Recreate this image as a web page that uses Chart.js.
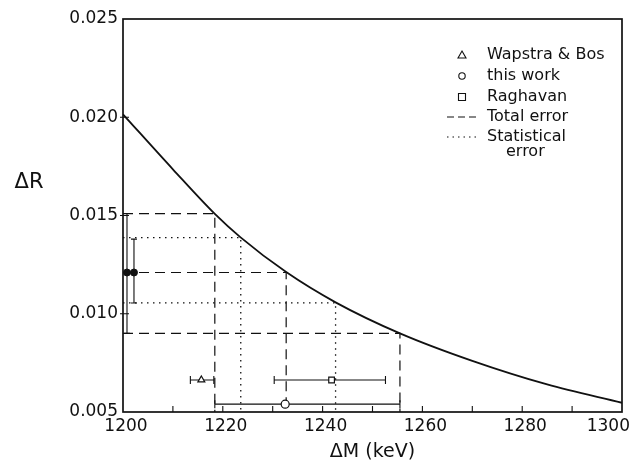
<!DOCTYPE html>
<html>
<head>
<meta charset="utf-8">
<script src="https://cdn.jsdelivr.net/npm/chart.js@4/dist/chart.umd.min.js"></script>
<style>
html, body { margin: 0; padding: 0; background: #fff; }
#wrap { width: 633px; height: 461px; }
</style>
</head>
<body>
<div id="wrap"><canvas id="chart"></canvas></div>
<script>
// curve dR vs dM
var curveM = [1200, 1210, 1218.4, 1223.5, 1232.7, 1242.6, 1255.5, 1270, 1285, 1300];
var curveR = [0.02015, 0.01735, 0.01508, 0.0139, 0.01212, 0.01058, 0.0090, 0.0076, 0.0064, 0.00547];

// total error (dashed) and statistical error (dotted) guide corners
var totalM = [1218.4, 1232.7, 1255.5];
var totalR = [0.0151, 0.0121, 0.0090];
var statM = [1223.6, 1242.6];
var statR = [0.01387, 0.01055];

// measurements with horizontal error bars
var pointNames = ['Wapstra & Bos', 'this work', 'Raghavan'];
var pointStyles = ['triangle', 'circle', 'rect'];
var pointM = [1215.7, 1232.5, 1241.8];
var pointR = [0.00663, 0.00540, 0.00663];
var pointLo = [1213.5, 1218.4, 1230.3];
var pointHi = [1218.2, 1255.5, 1252.6];

// filled points at left edge with vertical error bars
var leftM = [1200.8, 1202.2];
var leftR = [0.0121, 0.0121];
var leftLo = [0.0090, 0.01055];
var leftHi = [0.0151, 0.0138];

var xLabels = [1200, 1220, 1240, 1260, 1280, 1300];
var yLabels = ['0.005', '0.010', '0.015', '0.020', '0.025'];

var ink = '#111';
var font = '"DejaVu Sans", sans-serif';

function guide(m, r) {
    return [{x: 1200, y: r}, {x: m, y: r}, {x: m, y: 0.005}];
}

var datasets = [];
datasets.push({
    data: pointM.map(function (m, i) { return {x: m, y: pointR[i]}; }),
    showLine: false, pointStyle: pointStyles, pointRadius: 4,
    pointBorderColor: ink, pointBackgroundColor: '#fff', pointBorderWidth: 1.2
});
datasets.push({
    data: leftM.map(function (m, i) { return {x: m, y: leftR[i]}; }),
    showLine: false, pointStyle: 'circle', pointRadius: 3.5,
    pointBorderColor: ink, pointBackgroundColor: ink, pointBorderWidth: 1
});
datasets.push({
    data: curveM.map(function (m, i) { return {x: m, y: curveR[i]}; }),
    borderColor: ink, borderWidth: 1.8, pointRadius: 0,
    cubicInterpolationMode: 'monotone', fill: false
});
for (var i = 0; i < totalM.length; i++) {
    datasets.push({
        data: guide(totalM[i], totalR[i]), borderColor: ink, borderWidth: 1.2,
        borderDash: [10, 6], pointRadius: 0, fill: false
    });
}
for (var j = 0; j < statM.length; j++) {
    datasets.push({
        data: guide(statM[j], statR[j]), borderColor: ink, borderWidth: 1.3,
        borderDash: [1.5, 4.5], pointRadius: 0, fill: false
    });
}

var decor = {
    id: 'decor',
    beforeDatasetsDraw: function (chart) {
        var ctx = chart.ctx, xs = chart.scales.x, ys = chart.scales.y;
        ctx.save();
        ctx.strokeStyle = ink;
        ctx.lineWidth = 1.1;
        ctx.setLineDash([]);
        // horizontal error bars
        for (var i = 0; i < pointM.length; i++) {
            var y = ys.getPixelForValue(pointR[i]);
            var a = xs.getPixelForValue(pointLo[i]), b = xs.getPixelForValue(pointHi[i]);
            ctx.beginPath();
            ctx.moveTo(a, y); ctx.lineTo(b, y);
            ctx.moveTo(a, y - 4); ctx.lineTo(a, y + 4);
            ctx.moveTo(b, y - 4); ctx.lineTo(b, y + 4);
            ctx.stroke();
        }
        // vertical error bars
        for (var k = 0; k < leftM.length; k++) {
            var x = xs.getPixelForValue(leftM[k]);
            var t = ys.getPixelForValue(leftHi[k]), u = ys.getPixelForValue(leftLo[k]);
            ctx.beginPath();
            ctx.moveTo(x, t); ctx.lineTo(x, u);
            ctx.moveTo(x - 3, t); ctx.lineTo(x + 3, t);
            ctx.moveTo(x - 3, u); ctx.lineTo(x + 3, u);
            ctx.stroke();
        }
        ctx.restore();
    },
    afterDraw: function (chart) {
        var ctx = chart.ctx, area = chart.chartArea;
        var xs = chart.scales.x, ys = chart.scales.y;
        ctx.save();
        ctx.strokeStyle = ink;
        ctx.setLineDash([]);
        ctx.lineWidth = 1.7;
        ctx.strokeRect(area.left, area.top, area.right - area.left, area.bottom - area.top);

        // inward ticks
        ctx.lineWidth = 1.1;
        ctx.beginPath();
        for (var v = 1210; v < 1300; v += 10) {
            var px = xs.getPixelForValue(v);
            ctx.moveTo(px, area.bottom); ctx.lineTo(px, area.bottom - 6);
        }
        for (var w = 0.010; w < 0.0249; w += 0.005) {
            var py = ys.getPixelForValue(w);
            ctx.moveTo(area.left - 3, py); ctx.lineTo(area.left + 6, py);
        }
        ctx.stroke();

        // x tick labels
        ctx.fillStyle = ink;
        ctx.font = '17px ' + font;
        ctx.textBaseline = 'middle';
        ctx.textAlign = 'center';
        xLabels.forEach(function (lab) {
            var s = String(lab);
            var half = ctx.measureText(s).width / 2;
            var cx = Math.min(xs.getPixelForValue(lab) + 3, chart.width - 3 - half);
            ctx.fillText(s, cx, area.bottom + 15);
        });

        // axis titles
        ctx.font = '19px ' + font;
        ctx.fillText('\u0394M (keV)', (area.left + area.right) / 2, 452);
        ctx.font = '21px ' + font;
        ctx.fillText('\u0394R', 29, 183);

        // legend
        var lx = 462, tx = 487;
        var rows = [55, 76, 97, 117, 137];
        ctx.font = '16px ' + font;
        ctx.textAlign = 'left';
        for (var i = 0; i < pointNames.length; i++) {
            ctx.fillText(pointNames[i], tx, rows[i]);
        }
        ctx.fillText('Total error', tx, rows[3]);
        ctx.fillText('Statistical', tx, rows[4]);
        ctx.fillText('error', 506, 152);

        ctx.lineWidth = 1.1;
        ctx.fillStyle = '#fff';
        // triangle
        ctx.beginPath();
        ctx.moveTo(lx, rows[0] - 4); ctx.lineTo(lx + 4, rows[0] + 3); ctx.lineTo(lx - 4, rows[0] + 3);
        ctx.closePath(); ctx.fill(); ctx.stroke();
        // circle
        ctx.beginPath(); ctx.arc(lx, rows[1], 3.2, 0, Math.PI * 2); ctx.fill(); ctx.stroke();
        // square
        ctx.beginPath(); ctx.rect(lx - 3.5, rows[2] - 3.5, 7, 7); ctx.fill(); ctx.stroke();
        // dashed
        ctx.lineWidth = 1.2;
        ctx.setLineDash([7, 4]);
        ctx.beginPath(); ctx.moveTo(447, rows[3]); ctx.lineTo(479, rows[3]); ctx.stroke();
        ctx.setLineDash([1.5, 4]);
        ctx.beginPath(); ctx.moveTo(447, rows[4]); ctx.lineTo(476, rows[4]); ctx.stroke();
        ctx.restore();
    }
};

new Chart(document.getElementById('chart'), {
    type: 'line',
    data: { datasets: datasets },
    options: {
        responsive: true,
        maintainAspectRatio: false,
        animation: false,
        layout: { padding: { top: 19, right: 11, left: 0, bottom: 0 } },
        plugins: { legend: { display: false }, tooltip: { enabled: false } },
        scales: {
            x: {
                type: 'linear', min: 1200, max: 1300,
                grid: { display: false, drawTicks: false },
                border: { display: false },
                ticks: { display: false, stepSize: 10 },
                afterFit: function (s) { s.height = 49; s.paddingLeft = 0; s.paddingRight = 0; }
            },
            y: {
                type: 'linear', min: 0.005, max: 0.025,
                grid: { display: false, drawTicks: false },
                border: { display: false },
                ticks: {
                    stepSize: 0.005, padding: 5, color: ink,
                    font: { family: font, size: 17 },
                    callback: function (v) {
                        var idx = Math.round((v - 0.005) / 0.005);
                        return yLabels[idx] !== undefined ? yLabels[idx] : '';
                    }
                },
                afterFit: function (s) { s.width = 123; s.paddingTop = 0; s.paddingBottom = 0; }
            }
        }
    },
    plugins: [decor]
});
</script>
</body>
</html>
